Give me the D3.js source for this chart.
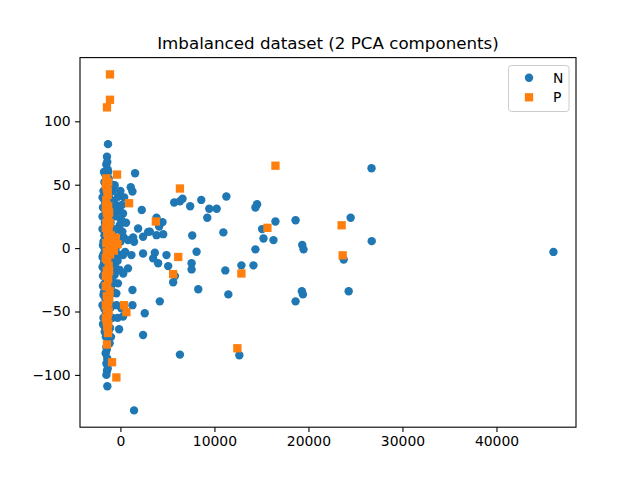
<!DOCTYPE html>
<html>
<head>
<meta charset="utf-8">
<script src="https://cdn.jsdelivr.net/npm/d3@7"></script>
<style>
  body { margin: 0; background: white; }
  svg { font-family: "DejaVu Sans", sans-serif; }
</style>
</head>
<body>
<div id="chart"></div>
<script>
// class N points [pc1, pc2]
const classN = [
  [-1320,82],[-1430,72],[-1500,66],[-1350,62],[-1600,58],[-1250,55],[-1700,52],[-1450,48],
  [-1100,50],[-1800,45],[-1550,42],[-1200,40],[-1650,37],[-1000,38],[-1400,35],[-1850,32],
  [-1150,31],[-1500,28],[-900,27],[-1750,25],[-1300,22],[-1050,20],[-1600,18],[-1900,15],
  [-1400,14],[-850,12],[-1700,10],[-1200,8],[-1550,6],[-1000,4],[-1850,2],[-1350,0],
  [-1650,-2],[-1100,-3],[-1450,-5],[-1900,-7],[-950,-8],[-1250,-10],[-1750,-12],[-1500,-14],
  [-1050,-16],[-1600,-18],[-1300,-20],[-1850,-22],[-1150,-24],[-1450,-26],[-1700,-28],[-1000,-30],
  [-1350,-32],[-1550,-35],[-1800,-37],[-1200,-40],[-1450,-42],[-1650,-45],[-1050,-47],[-1350,-50],
  [-1550,-52],[-1800,-55],[-1250,-57],[-1450,-60],[-1650,-62],[-1100,-63],[-1670,-66],[-1350,-70],
  [-1490,-78],[-1570,-83],[-1400,-87],[-1490,-91],[-1430,-97],[-1490,-100],[-1390,-109],
  [-800,45],[-700,30],[-750,15],[-650,5],[-720,-5],[-800,-20],[-680,-35],[-900,-45],[-850,-55],
  [-1750,60],[-1600,30],[-1250,-65],[-1150,-75],[-1700,-48],[-1850,-30],[-1900,-15],[-1800,5],
  [-1900,25],[-1850,-60],
  [-1750,40],[-1650,20],[-1800,-5],[-1700,-20],[-1600,-40],[-1550,-70],[-1450,-80],[-1300,-45],
  [-1200,-30],[-1100,-10],[-1000,15],[-950,35],[-900,50],[-1300,60],[-1400,68],[-1550,10],
  [-1650,-10],[-1750,-35],[-1500,-65],[-1350,-95],[-600,35],[-550,-15],[-400,-45],[-300,-55],
  [0,5],[300,-20],[600,20],[-200,-5],[400,40],[-1000,-70],[-1900,40],[-1900,-45],
  [-610,49.6],[-260,40.4],[-180,32.5],[280,27.3],[100,22],[-70,18],[100,12.8],[350,8.4],
  [810,6.3],[1450,5],[1350,8.4],[-70,29],[140,34],[140,21],[210,13],[-610,-21],[-790,-26.5],
  [-260,-27.8],[-430,-35.7],[-70,-17.3],[-1140,-16],[-790,-9.4],[280,-5.5],[810,-16],[1170,-5.5],
  [100,-47.5],[280,-54],[-140,-64],[1280,-33],[1280,-45],[-500,0],[-300,-10],[500,-3],[-400,15],
  [0,45],[-500,25],
  [1560,59],[1100,48],[1280,44.6],[2270,30],[3840,24],[4480,20.5],[5720,36],[6330,37],[6610,39],
  [7420,33],[8600,38],[9450,31],[10240,31],[9240,24],[7640,10],[1880,15.5],[2950,12.8],
  [3840,10.2],[4550,11],[2410,8.9],[4120,17],[3130,13],[2410,-4.2],[3660,-3.7],[3480,-8.1],
  [4010,-12],[4900,-5.5],[5080,-14.2],[5790,-22],[5610,-27],[7570,-12],[7570,-16.8],[8280,-32.5],
  [8100,-2.9],[4190,-42],[2590,-51.4],[2410,-68.5],[1450,-128],[6330,-84],[11270,40.7],
  [10950,12.4],[11160,-17.6],[11480,-36.5],[12870,-13.6],[12650,-84.5],[14150,-13.6],[14360,-1],
  [14540,34.6],[14360,32],[15070,15],[15220,7.6],[16280,6.3],[16490,21],[18630,22],[19340,2.4],
  [19480,-1],[19300,-34],[19410,-36.5],[18630,-42],[24490,24],[23750,-9],[24280,-34],
  [26710,63],[26730,5.5],[46060,-3]
];

// class P points [pc1, pc2]
const classP = [
  [-1110,137],[-1110,117],[-1430,111],
  [-1500,55],[-1300,52],[-1450,47],[-1350,42],[-1500,38],[-1300,33],[-1450,28],[-1350,24],
  [-1500,20],[-1250,16],[-1400,12],[-1000,10],[-600,5],[-300,3],[-1500,4],[-1200,1],[-900,6],
  [-1450,-3],[-1100,-5],[-1400,-9],[-1250,-14],[-1450,-18],[-1300,-24],[-1400,-30],[-1150,-34],
  [-1450,-38],[-1300,-43],[-1450,-48],[-1350,-53],[-1450,-58],[-1400,-62],
  [-1550,50],[-1350,45],[-1550,32],[-1200,28],[-1550,16],[-1150,20],[-1300,8],[-800,2],
  [-1050,0],[-1550,-8],[-1200,-18],[-1550,-22],[-1200,-40],[-1550,-30],[-1250,-50],[-1550,-45],
  [-1300,-60],[-1550,-55],[-700,-2],[-500,8],
  [-360,58],[920,35.4],[3770,21],[6330,47],[6150,-7],[5610,-20.5],[380,-45],[640,-50.5],
  [-1320,-67],[-1430,-76],[-890,-90],[-430,-102],[12440,-79],[12870,-20],[15640,16],
  [16490,65],[23530,18],[23640,-5.7]
];

const xTicks = [0, 10000, 20000, 30000, 40000];
const yTicks = [-100, -50, 0, 50, 100];
const seriesNames = ["N", "P"];
const colors = ["#1f77b4", "#ff7f0e"];

const width = 640, height = 480;
const margin = {left: 80, right: 64, top: 57.6, bottom: 52.8};

const svg = d3.select("#chart").append("svg")
    .attr("width", width).attr("height", height);

// axis limits with matplotlib-like 5% margins
const all = classN.concat(classP);
const xe = d3.extent(all, d => d[0]), ye = d3.extent(all, d => d[1]);
const xp = (xe[1] - xe[0]) * 0.05, yp = (ye[1] - ye[0]) * 0.05;

const x = d3.scaleLinear().domain([xe[0] - xp, xe[1] + xp])
    .range([margin.left, width - margin.right]);
const y = d3.scaleLinear().domain([ye[0] - yp, ye[1] + yp])
    .range([height - margin.bottom, margin.top]);

const fmt = d => d < 0 ? "\u2212" + Math.abs(d) : String(d);

const plot = svg.append("g");

plot.selectAll("circle").data(classN).enter().append("circle")
    .attr("cx", d => x(d[0])).attr("cy", d => y(d[1]))
    .attr("r", 4.2).attr("fill", colors[0]);

const sq = 8.3;
plot.selectAll("rect.p").data(classP).enter().append("rect")
    .attr("class", "p")
    .attr("x", d => x(d[0]) - sq / 2).attr("y", d => y(d[1]) - sq / 2)
    .attr("width", sq).attr("height", sq).attr("fill", colors[1]);

// axes
const xAxis = svg.append("g")
    .attr("transform", `translate(0,${height - margin.bottom})`)
    .call(d3.axisBottom(x).tickValues(xTicks).tickFormat(fmt).tickSizeOuter(0).tickSize(4.9).tickPadding(4.5));
const yAxis = svg.append("g")
    .attr("transform", `translate(${margin.left},0)`)
    .call(d3.axisLeft(y).tickValues(yTicks).tickFormat(fmt).tickSizeOuter(0).tickSize(4.9).tickPadding(4.5));

[xAxis, yAxis].forEach(a => {
  a.select(".domain").remove();
  a.selectAll("line").attr("stroke", "black").attr("stroke-width", 1.1);
  a.selectAll("text").attr("font-size", "13.9px").attr("fill", "black")
    .attr("font-family", "DejaVu Sans");
});

// frame
svg.append("rect")
    .attr("x", margin.left).attr("y", margin.top)
    .attr("width", width - margin.left - margin.right)
    .attr("height", height - margin.top - margin.bottom)
    .attr("fill", "none").attr("stroke", "black").attr("stroke-width", 1.1);

svg.append("text")
    .attr("x", (margin.left + width - margin.right) / 2).attr("y", 49)
    .attr("text-anchor", "middle").attr("font-size", "16.7px")
    .text("Imbalanced dataset (2 PCA components)");

// legend
const lg = svg.append("g");
lg.append("rect")
    .attr("x", 508.5).attr("y", 65.5).attr("width", 60.5).attr("height", 46)
    .attr("rx", 3).attr("fill", "white").attr("fill-opacity", 0.8)
    .attr("stroke", "#cccccc").attr("stroke-width", 1);

seriesNames.forEach((name, i) => {
  const cy = 77.7 + i * 19.6;
  if (i === 0) {
    lg.append("circle").attr("cx", 529).attr("cy", cy).attr("r", 4.2).attr("fill", colors[0]);
  } else {
    lg.append("rect").attr("x", 529 - sq / 2).attr("y", cy - sq / 2)
      .attr("width", sq).attr("height", sq).attr("fill", colors[1]);
  }
  lg.append("text").attr("x", 553).attr("y", cy).attr("dy", "0.35em")
    .attr("font-size", "13.9px").text(name);
});
</script>
</body>
</html>
